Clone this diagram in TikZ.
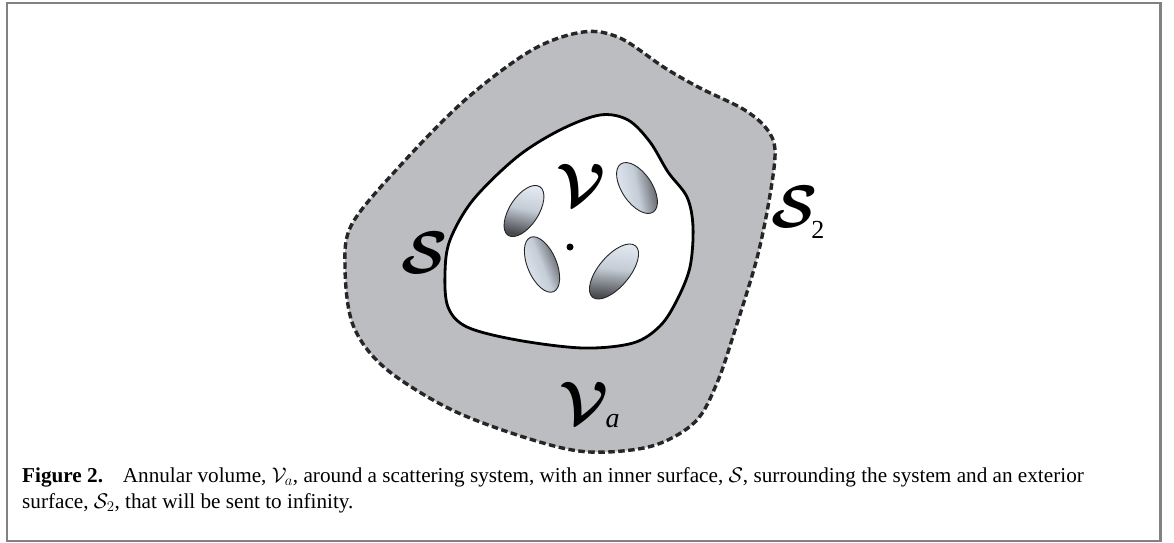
\RequirePackage{fix-cm}
\documentclass[tikz,border=0pt]{standalone}
\usepackage{amsmath}
\usepackage{fontspec}
\newfontfamily\capfont{Liberation Serif}
\usetikzlibrary{shapes.geometric,positioning}

\begin{document}
\begin{tikzpicture}[
        x=1pt, y=-1pt,
    biglabel/.style={inner sep=0pt, anchor=base west, font=\fontsize{60}{60}\selectfont},
    captext/.style={inner sep=0pt, anchor=base west, font=\capfont\fontsize{21.2}{26}\selectfont},
    part/.style={ellipse, draw=black!85, line width=0.9pt, inner sep=0pt,
        top color=partlight, bottom color=partdark, middle color=partmid}
]
\definecolor{framegray}{RGB}{130,130,130}
\definecolor{annulus}{RGB}{188,189,192}
\definecolor{partlight}{RGB}{230,236,243}
\definecolor{partmid}{RGB}{196,204,214}
\definecolor{partdark}{RGB}{72,74,78}

    \useasboundingbox (0,0) rectangle (1174,542);
    \draw [framegray, line width=2.5pt] (7,3) rectangle (1160.5,541);

    % exterior surface S_2
    \draw [fill=annulus, draw=black!85, line width=3.4pt, dash pattern=on 6.5pt off 3.5pt]
        plot [smooth cycle, tension=0.55] coordinates {
        (583,32) (620,38) (665,68) (700,88) (743,109) (766,128) (775,150)
        (770,195) (757,258) (735,330) (717,383) (695,422) (652,446) (590,452)
        (533,440) (452,410) (385,368) (353,325) (345,267) (352,224) (398,168)
        (465,100) (532,50)};
    % inner surface S
    \draw [fill=white, line width=2.8pt]
        plot [smooth cycle, tension=0.55] coordinates {
        (600,115) (628,120) (650,142) (668,172) (687,197) (693,227) (690,267)
        (677,300) (660,326) (633,343) (583,348) (517,340) (467,327) (448,307)
        (445,273) (450,240) (473,200) (517,157) (560,130)};

    \node [part, minimum width=58pt, minimum height=29pt, rotate=57, shading angle=-12] (p1) at (524,211) {};
    \node [part, minimum width=58pt, minimum height=30pt, rotate=-56, shading angle=101] (p2) at (637,188) {};
    \node [part, minimum width=59pt, minimum height=29pt, rotate=-67, shading angle=112] (p3) at (542,264.5) {};
    \node [part, minimum width=67pt, minimum height=31pt, rotate=50, shading angle=-5] (p4) at (614,271.5) {};
    \fill (570,247) circle (3.5pt) coordinate (origin);

    \node [biglabel] (vol) at (556,205) {$\boldsymbol{\mathcal{V}}$};
    \node [biglabel] (surf) at (401,273) {$\boldsymbol{\mathcal{S}}$};
    \node [biglabel] (surfext) at (771,227) {$\boldsymbol{\mathcal{S}}$\kern-6pt\raisebox{-11pt}{\capfont\fontsize{26}{26}\selectfont 2}};
    \node [biglabel] (volann) at (559,423) {$\boldsymbol{\mathcal{V}}$\kern-3pt\raisebox{-4pt}{\capfont\fontsize{28}{28}\selectfont\itshape a}};

    \node [captext] (cap1) at (22,482) {\textbf{Figure 2.}\hspace{0.6em} Annular volume, $\mathcal{V}_a$, around a scattering system, with an inner surface, $\mathcal{S}$, surrounding the system and an exterior};
    \node [captext] (cap2) at ([yshift=-26pt]cap1.base west) {surface, $\mathcal{S}_2$, that will be sent to infinity.};
\end{tikzpicture}
\end{document}
